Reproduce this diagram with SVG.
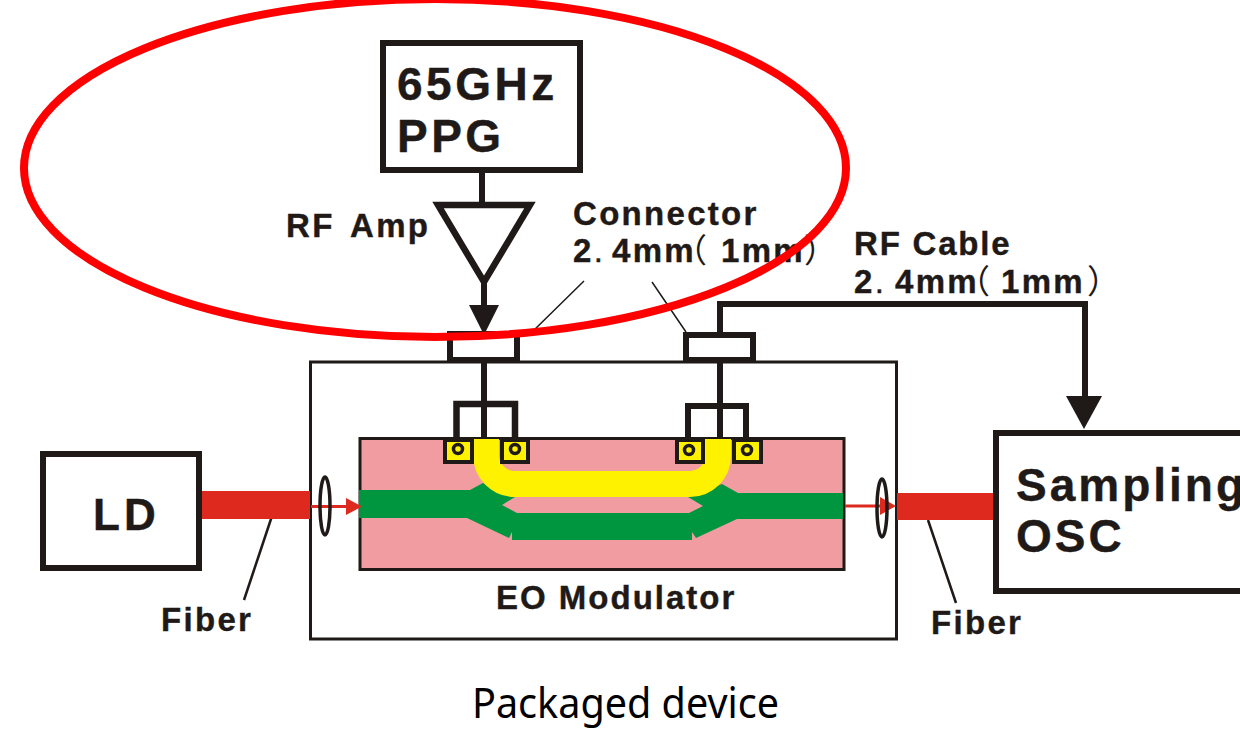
<svg xmlns="http://www.w3.org/2000/svg" width="1240" height="729" viewBox="0 0 1240 729">
<style>
.k{fill:none;stroke:#1f1a17;stroke-linejoin:miter}
.t{font-family:"Liberation Sans",Arial,sans-serif;font-weight:700;fill:#1f1a17;stroke:#1f1a17;stroke-width:.4}
.s{font-size:33px;letter-spacing:2.300px}
.p{font-family:"Noto Sans CJK SC",sans-serif;font-weight:400;stroke:none;letter-spacing:0}
.a{fill:#1f1a17}
.pad{fill:#fff200;stroke:#1f1a17;stroke-width:4}
.dot{fill:none;stroke:#1f1a17;stroke-width:3.500}
</style>
<rect width="1240" height="729" fill="#fff"/>
<g id="module-box"><rect class="k" x="310.500" y="362" width="586" height="277" stroke-width="3"/></g>
<g id="modulator">
<rect x="360" y="438.500" width="484" height="131" fill="#f09ca0" stroke="#1f1a17" stroke-width="3"/>
<path fill="#009640" d="M359 490H470L483 483L515 497L502 505L517 513H689L703 506L688 497L722 484L738 493H843V519H737L696 538L692 532V540H512V532L509 538L467 518H359Z"/>
<path fill="none" stroke="#fff200" stroke-width="26" d="M486 439V455A29 29 0 0 0 515 484H690A28 28 0 0 0 718 456V439"/>
<text class="t" x="496" y="609" font-size="33" letter-spacing="2">EO Modulator</text>
</g>
<g id="pads">
<rect class="pad" x="445" y="440" width="27" height="22"/><circle class="dot" cx="458" cy="449" r="4.500"/>
<rect class="pad" x="502" y="440" width="26" height="22"/><circle class="dot" cx="515" cy="449" r="4.500"/>
<rect class="pad" x="677" y="440" width="26" height="22"/><circle class="dot" cx="689" cy="450" r="4.500"/>
<rect class="pad" x="734" y="440" width="27" height="22"/><circle class="dot" cx="747" cy="450" r="4.500"/>
</g>
<g id="connectors">
<path class="k" stroke-width="6" d="M482 170V205"/>
<path class="k" stroke-width="6" d="M484 283V310"/>
<path class="a" d="M469 305H499L484 335Z"/>
<path class="k" stroke-width="6" d="M484 362V438"/>
<path class="k" stroke-width="6.500" d="M456.500 438V404H515V438"/>
<path class="k" stroke-width="6" d="M720 332V304H1085V400"/>
<path class="a" d="M1066 396H1102L1084 429Z"/>
<path class="k" stroke-width="6" d="M720 362V438M688 438V406H746V438"/>
<path class="k" stroke-width="1.500" d="M530 334L584 281M686 332L652 282"/>
<path class="k" stroke-width="2.500" d="M272 516L244 600M928 520L956 603"/>
<rect x="201" y="491" width="109" height="28" fill="#de2a1e"/>
<rect x="897" y="493" width="99" height="27" fill="#de2a1e"/>
<path fill="none" stroke="#de2a1e" stroke-width="3" d="M311 506.500H350M845 506H882"/>
<path fill="#de2a1e" d="M346 498L362 506.500L346 515ZM880 497L896 506L880 515Z"/>
<ellipse class="k" cx="325" cy="506" rx="5" ry="29" stroke-width="3.500"/>
<ellipse class="k" cx="882" cy="508" rx="5" ry="29" stroke-width="3.500"/>
</g>
<g id="connector-left"><rect class="k" x="450" y="334" width="67" height="26" stroke-width="6"/></g>
<g id="connector-right"><rect class="k" x="686" y="335" width="67" height="25" stroke-width="6"/></g>
<g id="ppg">
<rect class="k" x="383" y="43" width="197" height="127" stroke-width="6"/>
<text class="t" x="397" y="100" font-size="46" letter-spacing="3.500">65GHz</text>
<text class="t" x="397" y="152" font-size="46" letter-spacing="3.500">PPG</text>
</g>
<g id="amp">
<path class="k" stroke-width="6.500" d="M438 205H530L484 282Z"/>
<text class="t s" x="286" y="237">RF</text>
<text class="t s" x="350" y="237">Amp</text>
</g>
<g id="ld">
<rect class="k" x="43" y="454" width="156" height="114" stroke-width="6"/>
<text class="t" x="93" y="530" font-size="44" letter-spacing="4">LD</text>
</g>
<g id="osc">
<rect class="k" x="996" y="433" width="260" height="158" stroke-width="6"/>
<text class="t" x="1016" y="501" font-size="46" letter-spacing="3">Sampling</text>
<text class="t" x="1016" y="552" font-size="46" letter-spacing="3">OSC</text>
</g>
<g id="labels">
<text class="t s" x="573" y="225">Connector</text>
<text class="t s" x="573" y="262">2<tspan font-weight="400">.</tspan><tspan x="612">4mm</tspan><tspan class="p" x="674">（</tspan><tspan x="721">1mm</tspan><tspan class="p" x="804">）</tspan></text>
<text class="t" x="854" y="255" font-size="33" letter-spacing="1.800">RF Cable</text>
<text class="t s" x="854" y="293">2<tspan font-weight="400">.</tspan><tspan x="895">4mm</tspan><tspan class="p" x="957">（</tspan><tspan x="1001">1mm</tspan><tspan class="p" x="1087">）</tspan></text>
<text class="t s" x="161" y="631">Fiber</text>
<text class="t s" x="931" y="634">Fiber</text>
<text x="472" y="718" font-size="41" font-family="'Noto Sans',sans-serif" fill="#000" textLength="307" lengthAdjust="spacingAndGlyphs">Packaged device</text>
</g>
<g id="highlight"><ellipse cx="435" cy="168" rx="411" ry="169" fill="none" stroke="#fe0000" stroke-width="8"/></g>
</svg>
